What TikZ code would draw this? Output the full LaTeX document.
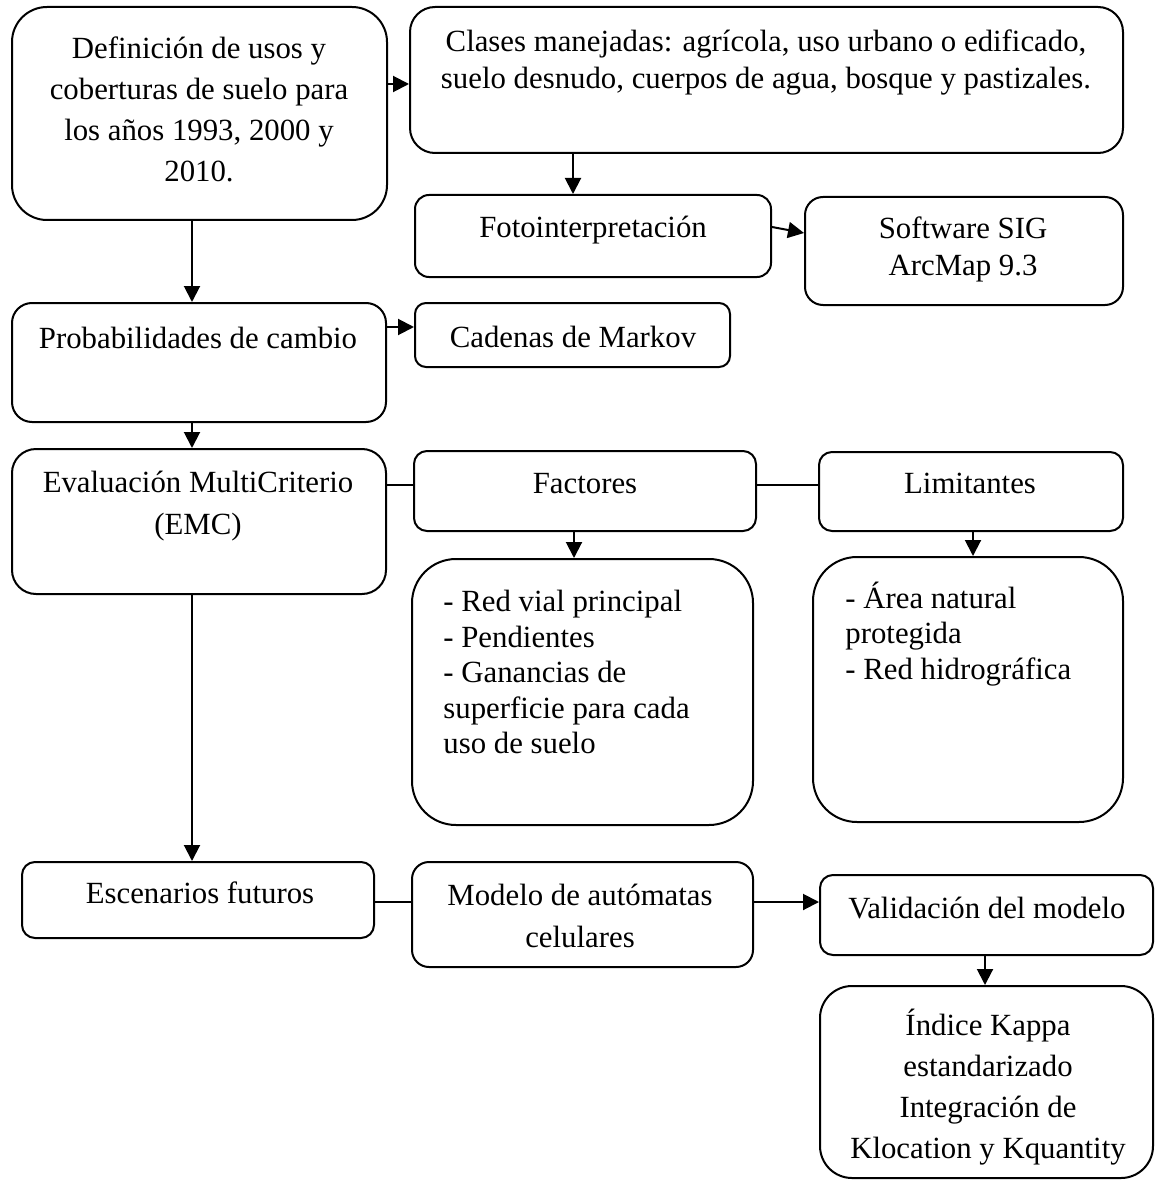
\documentclass[tikz,border=0pt]{standalone}
\usepackage{fontspec}
\setmainfont{Liberation Serif}
\usetikzlibrary{arrows.meta,fit}

\begin{document}
\begin{tikzpicture}[x=0.5pt,y=-0.5pt,
  box/.style={draw, line width=1pt, rounded corners=#1, inner sep=0pt},
  txt/.style={inner sep=0pt, align=center, font=\fontsize{15.4}{18.5}\selectfont},
  wide/.style={font=\fontsize{15.4}{20.5}\selectfont},
  lst/.style={inner sep=0pt, align=left, anchor=west, font=\fontsize{15.4}{17.75}\selectfont},
  conn/.style={line width=1pt},
  arr/.style={conn, -{Triangle[length=8pt,width=8pt]}}]

\useasboundingbox (0,0) rectangle (1156,1182);

% boxes
\node[box=17.5pt, fit={(12,7) (387,220)}] (def) {};
\node[box=12.5pt, fit={(410,7) (1123,153)}] (cls) {};
\node[box=7pt,   fit={(415,195) (771,277)}] (foto) {};
\node[box=9pt,   fit={(805,197) (1123,305)}] (sig) {};
\node[box=10pt,  fit={(12,303) (386,422)}] (prob) {};
\node[box=5.5pt, fit={(415,303) (730,367)}] (mark) {};
\node[box=12pt,  fit={(12,449) (386,594)}] (emc) {};
\node[box=6.5pt, fit={(414,451) (756,531)}] (fac) {};
\node[box=6.5pt, fit={(819,452) (1123,531)}] (lim) {};
\node[box=22pt,  fit={(412,559) (753,825)}] (facl) {};
\node[box=22pt,  fit={(813,557) (1123,822)}] (liml) {};
\node[box=6.5pt, fit={(22,862) (374,938)}] (esc) {};
\node[box=8.5pt, fit={(412,862) (753,967)}] (mod) {};
\node[box=6.5pt, fit={(820,875) (1153,955)}] (val) {};
\node[box=16pt,  fit={(820,986) (1153,1178)}] (kap) {};

% texts
\node[txt, wide] (tdef) at (199,109) {Definición de usos y\\coberturas de suelo para\\los años 1993, 2000 y\\2010.};
\node[txt] (tcls) at (766,62) {Clases manejadas: agrícola, uso urbano o edificado,\\suelo desnudo, cuerpos de agua, bosque y pastizales.};
\node[txt] (tfoto) at (593,230) {Fotointerpretación};
\node[txt] (tsig) at (963,249) {Software SIG\\ArcMap 9.3};
\node[txt] (tprob) at (198,338) {Probabilidades de cambio};
\node[txt] (tmark) at (573,337) {Cadenas de Markov};
\node[txt, font=\fontsize{15.4}{21}\selectfont] (temc) at (198,506) {Evaluación MultiCriterio\\(EMC)};
\node[txt] (tfac) at (585,484) {Factores};
\node[txt] (tlim) at (970,483) {Limitantes};
\node[lst] (tfacl) at (443,672) {- Red vial principal\\- Pendientes\\- Ganancias de\\superficie para cada\\uso de suelo};
\node[lst] (tliml) at (845,634) {- Área natural\\protegida\\- Red hidrográfica};
\node[txt] (tesc) at (200,893) {Escenarios futuros};
\node[txt, font=\fontsize{15.4}{21}\selectfont] (tmod) at (580,916) {Modelo de autómatas\\celulares};
\node[txt] (tval) at (987,908) {Validación del modelo};
\node[txt, wide] (tkap) at (988,1087) {Índice Kappa\\estandarizado\\Integración de\\Klocation y Kquantity};

% connectors
\draw[arr] (def.east |- 0,84) -- (cls.west |- 0,84);
\draw[arr] (cls.south -| 573,0) -- (foto.north -| 573,0);
\draw[arr] (foto.east |- 0,227) -- (sig.west |- 0,233);
\draw[arr] (def.south -| 192,0) -- (prob.north -| 192,0);
\draw[arr] (prob.east |- 0,327) -- (mark.west |- 0,327);
\draw[arr] (prob.south -| 192,0) -- (emc.north -| 192,0);
\draw[conn] (emc.east |- 0,485) -- (fac.west |- 0,485);
\draw[conn] (fac.east |- 0,485) -- (lim.west |- 0,485);
\draw[arr] (fac.south -| 574,0) -- (facl.north -| 574,0);
\draw[arr] (lim.south -| 973,0) -- (liml.north -| 973,0);
\draw[arr] (emc.south -| 192,0) -- (esc.north -| 192,0);
\draw[conn] (esc.east |- 0,902) -- (mod.west |- 0,902);
\draw[arr] (mod.east |- 0,902) -- (val.west |- 0,902);
\draw[arr] (val.south -| 985,0) -- (kap.north -| 985,0);
\end{tikzpicture}
\end{document}
